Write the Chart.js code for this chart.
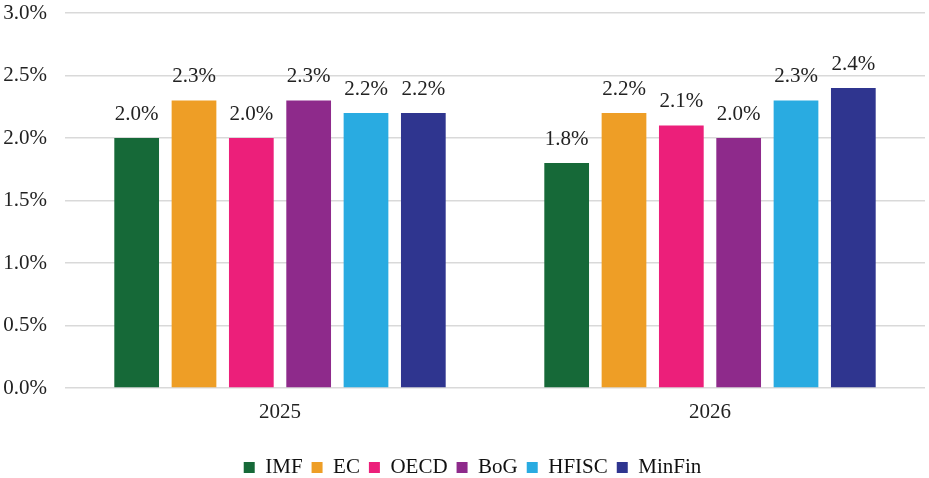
<!DOCTYPE html>
<html>
<head>
<meta charset="utf-8">
<script src="https://cdn.jsdelivr.net/npm/chart.js@4"></script>
<style>
  body { margin: 0; background: #fff; }
  #frame { width: 929px; height: 478px; overflow: hidden; }
  #wrap { width: 929px; height: 488px; }
</style>
</head>
<body>
<div id="frame"><div id="wrap"><canvas id="grafico-barras"></canvas></div></div>
<script>
// categorias e séries
const anos = ['2025', '2026'];
const imf = [2.0, 1.8];
const ec = [2.3, 2.2];
const oecd = [2.0, 2.1];
const bog = [2.3, 2.0];
const hfisc = [2.2, 2.3];
const minfin = [2.2, 2.4];
const ticksY = [0, 0.5, 1.0, 1.5, 2.0, 2.5, 3.0];

const fonte = '"Liberation Serif", "Times New Roman", serif';

// rótulos acima das barras
const rotulos = {
  id: 'rotulos',
  afterLayout(chart) {
    // legenda um pouco à direita, como no original
    chart.legend.left += 10;
    chart.legend.right += 10;
  },
  afterDatasetsDraw(chart) {
    const ctx = chart.ctx;
    ctx.save();
    ctx.font = '21px ' + fonte;
    ctx.fillStyle = '#222';
    ctx.textAlign = 'center';
    ctx.textBaseline = 'middle';
    chart.data.datasets.forEach((ds, i) => {
      chart.getDatasetMeta(i).data.forEach((bar, j) => {
        ctx.fillText(ds.data[j].toFixed(1) + '%', bar.x, bar.y - 24);
      });
    });
    ctx.restore();
  }
};

const ctxBarras = document.getElementById('grafico-barras');
new Chart(ctxBarras, {
  type: 'bar',
  data: {
    labels: anos,
    datasets: [
      { label: 'IMF', data: imf, backgroundColor: '#166938' },
      { label: 'EC', data: ec, backgroundColor: '#EE9E26' },
      { label: 'OECD', data: oecd, backgroundColor: '#EC1F7A' },
      { label: 'BoG', data: bog, backgroundColor: '#8E2A8B' },
      { label: 'HFISC', data: hfisc, backgroundColor: '#29ABE1' },
      { label: 'MinFin', data: minfin, backgroundColor: '#2F358F' }
    ]
  },
  options: {
    responsive: true,
    maintainAspectRatio: false,
    animation: false,
    categoryPercentage: 0.8,
    barPercentage: 0.78,
    layout: { padding: { top: 0, right: 4, left: 0, bottom: 0 } },
    plugins: {
      legend: {
        position: 'bottom',
        labels: {
          boxWidth: 11,
          boxHeight: 11,
          padding: 9,
          color: '#111',
          font: { family: fonte, size: 21 }
        }
      },
      tooltip: { enabled: false }
    },
    scales: {
      x: {
        afterFit(axis) { axis.height = 60; },
        grid: { display: false },
        border: { display: false },
        ticks: { color: '#222', font: { family: fonte, size: 21 }, padding: 4 }
      },
      y: {
        min: 0,
        max: 3,
        afterBuildTicks(axis) { axis.ticks = ticksY.map(v => ({ value: v })); },
        afterFit(axis) {
          axis.width = 65;
          axis.paddingTop = 13;
          axis.paddingBottom = 0;
        },
        grid: { color: '#d9d9d9', lineWidth: 1.5, drawTicks: false },
        border: { display: false },
        ticks: {
          color: '#222',
          padding: 18,
          font: { family: fonte, size: 21 },
          callback: v => v.toFixed(1) + '%'
        }
      }
    }
  },
  plugins: [rotulos]
});
</script>
</body>
</html>
